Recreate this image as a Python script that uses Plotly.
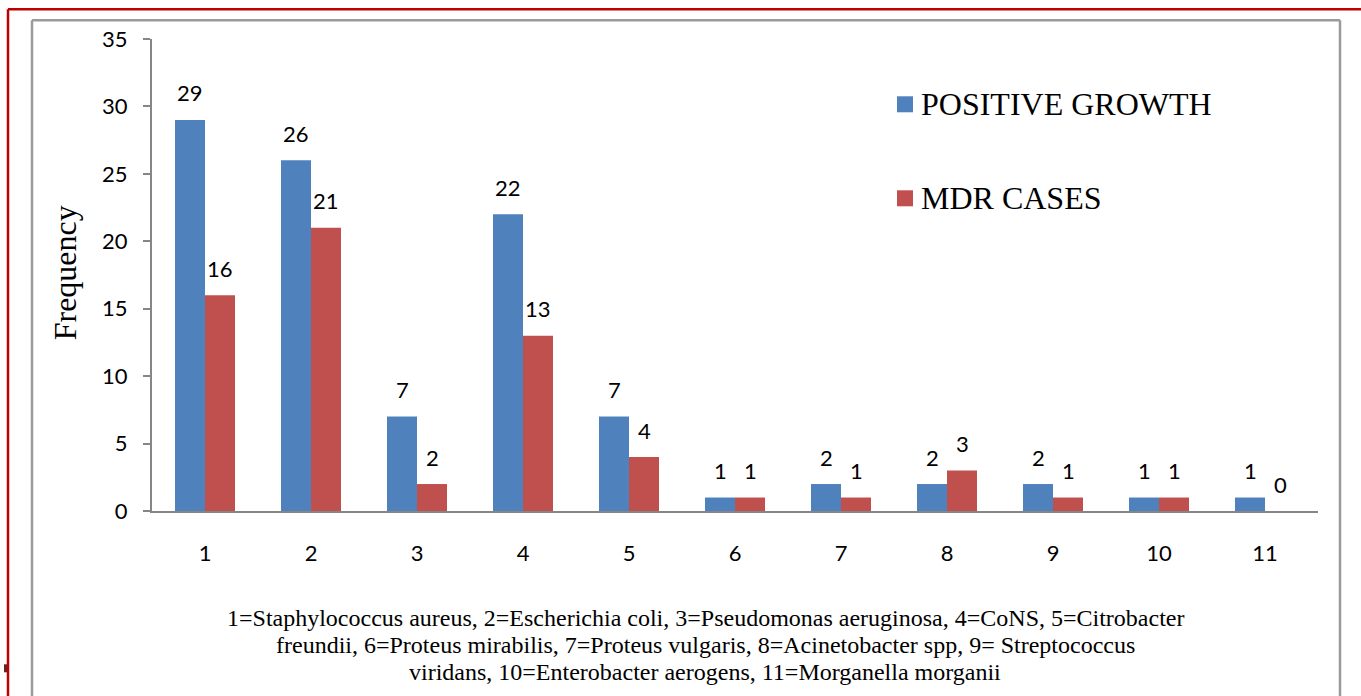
import plotly.graph_objects as go

categories = ["1", "2", "3", "4", "5", "6", "7", "8", "9", "10", "11"]
positive_growth = [29, 26, 7, 22, 7, 1, 2, 2, 2, 1, 1]
mdr_cases = [16, 21, 2, 13, 4, 1, 1, 3, 1, 1, 0]
series_names = ["POSITIVE GROWTH", "MDR CASES"]
y_ticks = [0, 5, 10, 15, 20, 25, 30, 35]
caption_lines = [
    "1=Staphylococcus aureus, 2=Escherichia coli, 3=Pseudomonas aeruginosa, 4=CoNS, 5=Citrobacter",
    "freundii, 6=Proteus mirabilis, 7=Proteus vulgaris, 8=Acinetobacter spp, 9= Streptococcus",
    "viridans, 10=Enterobacter aerogens, 11=Morganella morganii",
]

W, H = 1361, 696
L, R, T, B = 152, 1318, 38.7, 510.7
BLUE = "#4F81BD"
RED = "#C0504D"
AX = "#868686"
SERIF = "Liberation Serif, Times New Roman, serif"
SANS = "Lato, Open Sans, sans-serif"
BAR_HALF = 15  # half bar width in px, for label placement


def px(x):
    return (x - L) / (R - L)


def py(y):
    return (B - y) / (B - T)


fig = go.Figure()
for name, vals, col in [(series_names[0], positive_growth, BLUE), (series_names[1], mdr_cases, RED)]:
    fig.add_trace(go.Bar(
        x=categories, y=vals, name=name,
        marker=dict(color=col, line=dict(width=0)),
        cliponaxis=False, showlegend=False,
    ))

shapes = [
    dict(type="line", xref="paper", yref="paper", x0=px(8), x1=px(1361), y0=py(9), y1=py(9),
         line=dict(color="#C00000", width=2.5)),
    dict(type="line", xref="paper", yref="paper", x0=px(8), x1=px(8), y0=py(9), y1=py(700),
         line=dict(color="#C00000", width=2.5)),
    dict(type="line", xref="paper", yref="paper", x0=px(32), x1=px(1340), y0=py(20), y1=py(20),
         line=dict(color="#9A9A9A", width=2.5)),
    dict(type="line", xref="paper", yref="paper", x0=px(32), x1=px(32), y0=py(20), y1=py(700),
         line=dict(color="#9A9A9A", width=2.5)),
    dict(type="line", xref="paper", yref="paper", x0=px(1340), x1=px(1340), y0=py(20), y1=py(700),
         line=dict(color="#9A9A9A", width=2.5)),
    dict(type="rect", xref="paper", yref="paper", x0=px(4), x1=px(7), y0=py(672), y1=py(664),
         fillcolor="#6B2222", line=dict(width=0)),
    dict(type="rect", xref="paper", yref="paper", x0=px(897), x1=px(913), y0=py(112), y1=py(96),
         fillcolor=BLUE, line=dict(width=0)),
    dict(type="rect", xref="paper", yref="paper", x0=px(897), x1=px(913), y0=py(206), y1=py(190),
         fillcolor=RED, line=dict(width=0)),
]

annotations = [
    dict(text=series_names[0], xref="paper", yref="paper", x=px(919), y=py(104),
         xanchor="left", yanchor="middle", showarrow=False,
         font=dict(family=SERIF, size=32, color="black")),
    dict(text=series_names[1], xref="paper", yref="paper", x=px(919), y=py(198),
         xanchor="left", yanchor="middle", showarrow=False,
         font=dict(family=SERIF, size=32, color="black")),
    dict(text="Frequency", xref="paper", yref="paper", x=px(65), y=py(273),
         xanchor="center", yanchor="middle", textangle=-90, showarrow=False,
         font=dict(family=SERIF, size=32, color="black")),
]
for i, line in enumerate(caption_lines):
    annotations.append(dict(text=line, xref="paper", yref="paper", x=px(705), y=py(618 + 27 * i),
                            xanchor="center", yanchor="middle", showarrow=False,
                            font=dict(family=SERIF, size=24, color="black")))

# data labels above bars (category axis -> use category index)
for vals, shift in [(positive_growth, -BAR_HALF), (mdr_cases, BAR_HALF)]:
    for idx, v in enumerate(vals):
        annotations.append(dict(text=str(v), x=idx, y=v, xref="x", yref="y",
                                xshift=shift, yshift=27, xanchor="center", yanchor="middle",
                                showarrow=False, font=dict(family=SANS, size=22, color="black")))

fig.update_layout(
    width=W, height=H,
    margin=dict(l=L, r=W - R, t=T, b=H - B, pad=0),
    paper_bgcolor="white", plot_bgcolor="white",
    barmode="group", bargap=0.434, bargroupgap=0,
    shapes=shapes, annotations=annotations,
    xaxis=dict(type="category", range=[-0.5, len(categories) - 0.5],
               showline=True, linecolor=AX, linewidth=2, ticks="", showgrid=False,
               tickfont=dict(family=SANS, size=22, color="black"), ticklabelstandoff=22,
               fixedrange=True),
    yaxis=dict(range=[0, 35], tickvals=y_ticks, showline=True, linecolor=AX, linewidth=2,
               ticks="outside", ticklen=7, tickcolor=AX, tickwidth=2, showgrid=False, zeroline=False,
               tickfont=dict(family=SANS, size=22, color="black"), ticklabelstandoff=11,
               fixedrange=True),
    showlegend=False,
)

fig.write_html("out.html", config={"displayModeBar": False},
               post_script="document.body.style.margin='0';document.body.style.padding='0';")
